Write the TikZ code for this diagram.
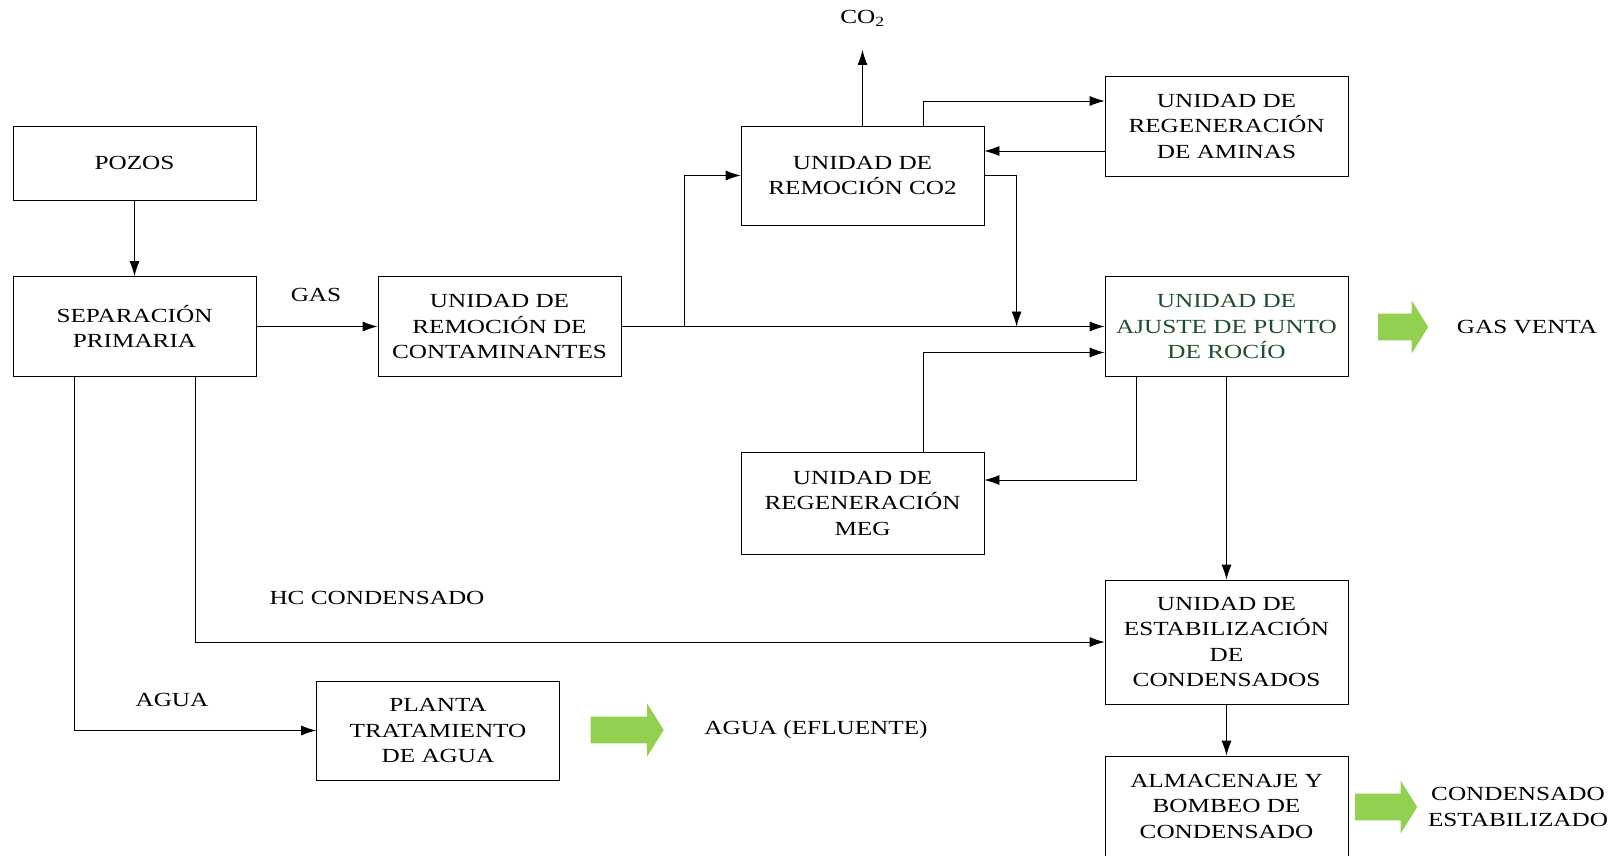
\documentclass[tikz,border=0pt]{standalone}
\usepackage{fontspec}
\setmainfont{Liberation Serif}[FakeStretch=1.26]
\usetikzlibrary{arrows.meta, shapes.arrows}
\definecolor{flowgreen}{HTML}{92D050}
\definecolor{dewgreen}{HTML}{1F4E2C}

\begin{document}
\begin{tikzpicture}[
  x=1pt, y=-1pt,
  font=\fontsize{20}{25.5}\selectfont,
  unit/.style={draw, line width=0.8pt, minimum width=243pt, minimum height=100pt, inner sep=2pt, align=center},
  lbl/.style={inner sep=0pt, align=center},
  gout/.style={single arrow, fill=flowgreen, draw=none, inner sep=13pt, single arrow head extend=13pt, single arrow tip angle=116},
  ->, >={Latex[length=15pt,width=10pt]}, line width=0.8pt
]
\useasboundingbox (0,0) rectangle (1623,856);

% Column 1: wells and primary separation
\node[unit, minimum height=74pt] (pozos) at (134.5,163) {POZOS};
\node[unit] (sep) at (134.5,326.5) {SEPARACIÓN\\PRIMARIA};
\node[unit] (cont) at (499.5,326.5) {UNIDAD DE\\REMOCIÓN DE\\CONTAMINANTES};
\node[unit, minimum height=99pt] (planta) at (438,730.5) {PLANTA\\TRATAMIENTO\\DE AGUA};

% Column 2: CO2 removal and MEG
\node[unit, minimum height=99pt] (co2) at (862.5,175.5) {UNIDAD DE\\REMOCIÓN CO2};
\node[unit, minimum height=102pt] (meg) at (862.5,503) {UNIDAD DE\\REGENERACIÓN\\MEG};

% Column 3: amines, dew point, condensate
\node[unit] (amin) at (1226.5,126) {UNIDAD DE\\REGENERACIÓN\\DE AMINAS};
\node[unit, text=dewgreen] (dew) at (1226.5,326.5) {UNIDAD DE\\AJUSTE DE PUNTO\\DE ROCÍO};
\node[unit, minimum height=124pt] (stab) at (1226.5,642) {UNIDAD DE\\ESTABILIZACIÓN\\DE\\CONDENSADOS};
\node[unit] (alm) at (1226.5,806) {ALMACENAJE Y\\BOMBEO DE\\CONDENSADO};

% Stream labels
\node[lbl] (gas) at (316,295) {GAS};
\node[lbl] (hc) at (377,598) {HC CONDENSADO};
\node[lbl] (agua) at (172,700) {AGUA};
\node[lbl] (co2txt) at (862.5,18) {CO\textsubscript{2}};
\node[lbl] (venta) at (1527,327) {GAS VENTA};
\node[lbl] (efl) at (816,730) {AGUA (EFLUENTE)};
\node[lbl] (cest) at (1518,807) {CONDENSADO\\ESTABILIZADO};

% Products
\node[gout, minimum height=50pt] (g1) at (1399,327) {};
\node[gout, minimum height=73pt] (g2) at (623,730) {};
\node[gout, minimum height=62pt] (g3) at (1382,807) {};

\coordinate (co2top) at (862.5,50);
\coordinate (ami1) at ([yshift=25pt]amin.west);
\coordinate (ami2) at ([yshift=-25pt]amin.west);
\coordinate (dew2) at ([yshift=-26pt]dew.west);
\coordinate (meg2) at ([yshift=23pt]meg.east);

% Gas line
\draw (pozos) -- (sep);
\draw (sep) -- (cont);
\draw (cont) -- (dew);
\draw ([xshift=63pt]cont.east) |- (co2.west);
\draw (co2.north) -- (co2top);
\draw ([xshift=61pt]co2.north) |- (ami1);
\draw (ami2) -- (ami2 -| co2.east);
\draw (co2.east) -| ([xshift=-88pt]dew.west);
\draw ([xshift=61pt]meg.north) |- (dew2);
\draw ([xshift=-90pt]dew.south) |- (meg2);

% Liquids
\draw (dew) -- (stab);
\draw (stab) -- (alm);
\draw ([xshift=61pt]sep.south) |- (stab.west);
\draw ([xshift=-60pt]sep.south) |- (planta.west);
\end{tikzpicture}
\end{document}
